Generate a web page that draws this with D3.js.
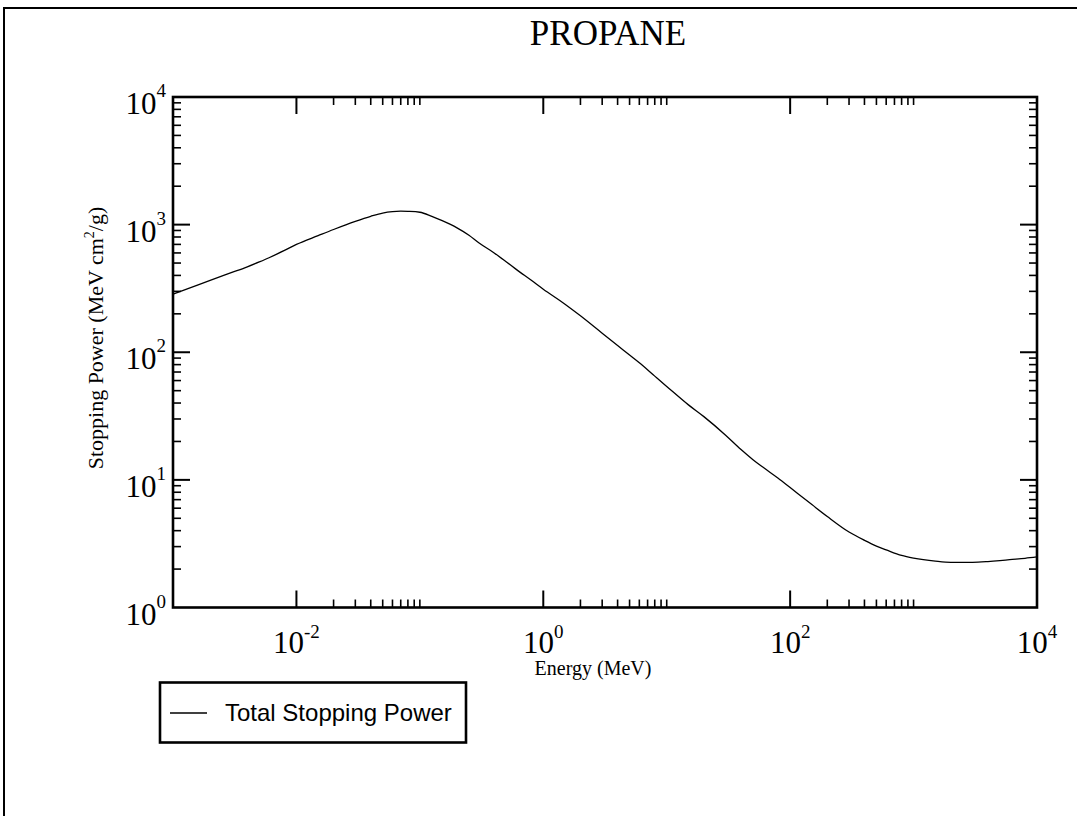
<!DOCTYPE html>
<html>
<head>
<meta charset="utf-8">
<script src="https://cdn.jsdelivr.net/npm/d3@7"></script>
<style>
  html, body { margin: 0; padding: 0; background: #fff; }
  svg { display: block; }
  .serif { font-family: "Liberation Serif", "Times New Roman", serif; fill: #000; }
  .sans { font-family: "Liberation Sans", Arial, sans-serif; fill: #000; }
</style>
</head>
<body>
<svg id="chart" width="1077" height="816"></svg>
<script>
// Proton total stopping power in propane
const energyMeV = [
  0.001, 0.0015, 0.002, 0.003, 0.004, 0.005, 0.006, 0.008,
  0.01, 0.015, 0.02, 0.03, 0.04, 0.05, 0.06, 0.07, 0.08,
  0.1, 0.125, 0.15, 0.2, 0.25, 0.3, 0.4, 0.5, 0.6, 0.8,
  1, 1.5, 2, 3, 4, 5, 6, 8,
  10, 15, 20, 30, 40, 50, 60, 80,
  100, 150, 200, 300, 400, 500, 600, 800,
  1000, 1500, 2000, 3000, 4000, 5000, 6000, 8000, 10000
];
const stoppingPower = [
  285, 330, 366, 422, 467, 510, 550, 628,
  700, 820, 916, 1060, 1162, 1233, 1265, 1275, 1270,
  1250, 1160, 1079, 944, 826, 721, 600, 512, 448, 366,
  312, 238, 193, 141, 113, 95, 82.6, 65,
  54, 38.7, 31.3, 22.4, 17.3, 14.4, 12.6, 10.3,
  8.7, 6.4, 5.16, 3.9, 3.36, 3.03, 2.83, 2.56,
  2.44, 2.31, 2.26, 2.26, 2.29, 2.33, 2.37, 2.43, 2.49
];

const xMajorTicks = [1e-2, 1e0, 1e2, 1e4];
const xMajorExponents = ["-2", "0", "2", "4"];
const xMinorDecades = [1e-2, 1e0, 1e2];
const yMajorTicks = [1e0, 1e1, 1e2, 1e3, 1e4];
const yMajorExponents = ["0", "1", "2", "3", "4"];
const yMinorDecades = [1e0, 1e1, 1e2, 1e3];

const chartTitle = "PROPANE";
const xTitle = "Energy (MeV)";
const legendLabel = "Total Stopping Power";

const svg = d3.select("#chart");
const plot = { left: 173, right: 1037, top: 97, bottom: 607.5 };

const x = d3.scaleLog().domain([1e-3, 1e4]).range([plot.left, plot.right]);
const y = d3.scaleLog().domain([1e0, 1e4]).range([plot.bottom, plot.top]);

// page frame
svg.append("path")
  .attr("d", `M4,${816 + 5} V8 H${1077 + 5}`)
  .attr("fill", "none").attr("stroke", "#000").attr("stroke-width", 2);

// title
svg.append("text").attr("class", "serif")
  .attr("x", 608).attr("y", 45)
  .attr("text-anchor", "middle")
  .attr("font-size", 35)
  .text(chartTitle);

// minor tick positions
const xMinor = [];
xMinorDecades.forEach(d => { for (let k = 2; k <= 10; k++) xMinor.push(d * k); });
const yMinor = [];
yMinorDecades.forEach(d => { for (let k = 2; k <= 9; k++) yMinor.push(d * k); });

const majorLen = 17, minorLen = 8;
const ticks = svg.append("g").attr("stroke", "#000");

// bottom & top axes (ticks point inward)
[[plot.bottom, -1], [plot.top, 1]].forEach(([yy, dir]) => {
  ticks.selectAll(null).data(xMajorTicks.filter(v => v < 1e4)).enter().append("line")
    .attr("x1", d => x(d)).attr("x2", d => x(d))
    .attr("y1", yy).attr("y2", yy + dir * majorLen)
    .attr("stroke-width", 2);
  ticks.selectAll(null).data(xMinor).enter().append("line")
    .attr("x1", d => x(d)).attr("x2", d => x(d))
    .attr("y1", yy).attr("y2", yy + dir * minorLen)
    .attr("stroke-width", 1.6);
});

// left & right axes
[[plot.left, 1], [plot.right, -1]].forEach(([xx, dir]) => {
  ticks.selectAll(null).data(yMajorTicks.filter(v => v > 1 && v < 1e4)).enter().append("line")
    .attr("y1", d => y(d)).attr("y2", d => y(d))
    .attr("x1", xx).attr("x2", xx + dir * majorLen)
    .attr("stroke-width", 2);
  ticks.selectAll(null).data(yMinor).enter().append("line")
    .attr("y1", d => y(d)).attr("y2", d => y(d))
    .attr("x1", xx).attr("x2", xx + dir * minorLen)
    .attr("stroke-width", 1.6);
});

// curve
const line = d3.line()
  .x((d, i) => x(energyMeV[i]))
  .y(d => y(d))
  .curve(d3.curveMonotoneX);
svg.append("path")
  .datum(stoppingPower)
  .attr("d", line)
  .attr("fill", "none")
  .attr("stroke", "#000")
  .attr("stroke-width", 1.3);

// plot frame
svg.append("rect")
  .attr("x", plot.left).attr("y", plot.top)
  .attr("width", plot.right - plot.left).attr("height", plot.bottom - plot.top)
  .attr("fill", "none").attr("stroke", "#000").attr("stroke-width", 2.6);

// x tick labels
xMajorTicks.forEach((v, i) => {
  const t = svg.append("text").attr("class", "serif")
    .attr("x", x(v)).attr("y", 653)
    .attr("text-anchor", "middle")
    .attr("font-size", 31);
  t.append("tspan").text("10");
  t.append("tspan").attr("font-size", 19).attr("dy", -15).text(xMajorExponents[i]);
});

// y tick labels
yMajorTicks.forEach((v, i) => {
  const t = svg.append("text").attr("class", "serif")
    .attr("x", 166).attr("y", y(v) + 17)
    .attr("text-anchor", "end")
    .attr("font-size", 31);
  t.append("tspan").text("10");
  t.append("tspan").attr("font-size", 19).attr("dy", -17).text(yMajorExponents[i]);
});

// axis titles
svg.append("text").attr("class", "serif")
  .attr("x", 593).attr("y", 675)
  .attr("text-anchor", "middle")
  .attr("font-size", 20)
  .text(xTitle);

const yt = svg.append("text").attr("class", "serif")
  .attr("transform", "translate(103,338) rotate(-90)")
  .attr("text-anchor", "middle")
  .attr("font-size", 22);
yt.append("tspan").text("Stopping Power (MeV cm");
yt.append("tspan").attr("font-size", 14).attr("dy", -9).text("2");
yt.append("tspan").attr("dy", 9).text("/g)");

// legend
const lg = svg.append("g");
lg.append("rect")
  .attr("x", 160).attr("y", 682.5).attr("width", 306).attr("height", 60)
  .attr("fill", "#fff").attr("stroke", "#000").attr("stroke-width", 2.6);
lg.append("line")
  .attr("x1", 170).attr("x2", 207).attr("y1", 713).attr("y2", 713)
  .attr("stroke", "#000").attr("stroke-width", 1.3);
lg.append("text").attr("class", "sans")
  .attr("x", 225).attr("y", 721)
  .attr("font-size", 24)
  .text(legendLabel);
</script>
</body>
</html>
